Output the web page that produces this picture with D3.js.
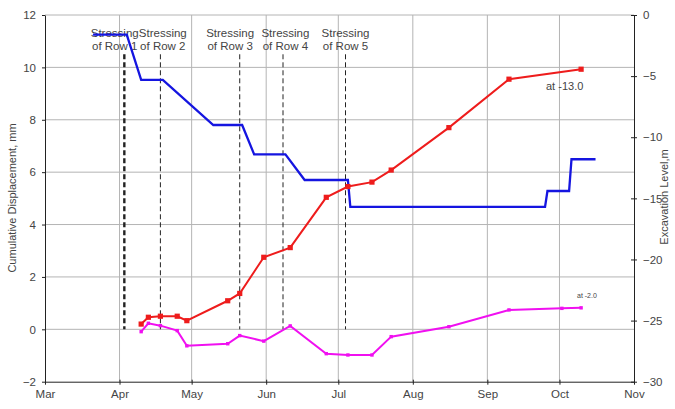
<!doctype html>
<html lang="en">
<head>
<meta charset="utf-8">
<title>Cumulative displacement and excavation level</title>
<style>
html, body { margin:0; padding:0; background:#fff; }
svg { display:block; font-family:"Liberation Sans", Arial, sans-serif; }
.grid line { stroke:#b4b4b4; stroke-width:1; }
.axis path, .axis line { stroke:#222; }
.axis text { fill:#444; font-size:11.5px; }
.lbl { fill:#444; font-size:11.5px; }
</style>
<script src="https://cdn.jsdelivr.net/npm/d3@7/dist/d3.min.js"></script>
</head>
<body>
<svg id="chart" width="675" height="409"></svg>
<script>
// x axis months (tick labels)
const monthLabels = ["Mar", "Apr", "May", "Jun", "Jul", "Aug", "Sep", "Oct", "Nov"];
const leftTicks  = [-2, 0, 2, 4, 6, 8, 10, 12];
const rightTicks = [-30, -25, -20, -15, -10, -5, 0];

// excavation level (right axis, m)
const excDates = ["2003-03-21","2003-04-04","2003-04-10","2003-04-19","2003-05-10","2003-05-22","2003-05-27","2003-06-09",
                  "2003-06-17","2003-07-05","2003-07-06","2003-09-25","2003-09-26","2003-10-05","2003-10-06","2003-10-16"];
const excLevel = [-1.6,-1.6,-5.3,-5.3,-9.0,-9.0,-11.4,-11.4,-13.5,-13.5,-15.7,-15.7,-14.4,-14.4,-11.8,-11.8];

// displacement at -13.0 (left axis, mm)
const d13Dates = ["2003-04-10","2003-04-13","2003-04-18","2003-04-25","2003-04-29","2003-05-16","2003-05-21","2003-05-31",
                  "2003-06-11","2003-06-26","2003-07-05","2003-07-15","2003-07-23","2003-08-16","2003-09-10","2003-10-10"];
const d13Values = [0.2,0.46,0.5,0.5,0.33,1.09,1.37,2.75,3.12,5.04,5.45,5.62,6.08,7.7,9.55,9.93];

// displacement at -2.0 (left axis, mm)
const d2Dates = ["2003-04-10","2003-04-13","2003-04-18","2003-04-25","2003-04-29","2003-05-16","2003-05-21","2003-05-31",
                 "2003-06-11","2003-06-26","2003-07-05","2003-07-15","2003-07-23","2003-08-16","2003-09-10","2003-10-02","2003-10-10"];
const d2Values = [-0.09,0.23,0.14,-0.05,-0.63,-0.55,-0.24,-0.45,0.13,-0.93,-0.98,-0.98,-0.28,0.1,0.74,0.8,0.82];

// stressing events
const stressDates = ["2003-04-03","2003-04-18","2003-05-21","2003-06-08","2003-07-04"];
const stressLabelDates = ["2003-03-30","2003-04-19","2003-05-17","2003-06-09","2003-07-04"];
const stressLabels = ["of Row 1","of Row 2","of Row 3","of Row 4","of Row 5"];

const parse = d3.timeParse("%Y-%m-%d");
const svg = d3.select("#chart");

const x = d3.scaleTime()
  .domain([parse("2003-03-01"), parse("2003-11-01")])
  .range([45, 634]);
const yL = d3.scaleLinear().domain([-2, 12]).range([381.7, 15]);
const yR = d3.scaleLinear().domain([-30, 0]).range([381.7, 15]);

const monthTicks = monthLabels.map((m, i) => new Date(2003, 2 + i, 1));

// gridlines
const grid = svg.append("g").attr("class", "grid");
grid.selectAll(".h").data(leftTicks.filter(v => v > -2)).enter().append("line")
  .attr("x1", 45).attr("x2", 634)
  .attr("y1", d => yL(d)).attr("y2", d => yL(d));
grid.selectAll(".v").data(monthTicks.slice(1, -1)).enter().append("line")
  .attr("x1", d => x(d)).attr("x2", d => x(d))
  .attr("y1", 15).attr("y2", 381.7);

// axes
svg.append("g").attr("class", "axis")
  .attr("transform", "translate(45,0)")
  .call(d3.axisLeft(yL).tickValues(leftTicks).tickSize(3).tickPadding(6).tickSizeOuter(0));
svg.append("g").attr("class", "axis")
  .attr("transform", "translate(634,0)")
  .call(d3.axisRight(yR).tickValues(rightTicks).tickSizeInner(3).tickSizeOuter(0).tickPadding(6))
  .call(g => g.selectAll(".tick line").attr("x1", -3));
svg.append("g").attr("class", "axis")
  .attr("transform", "translate(0,381.7)")
  .call(d3.axisBottom(x).tickValues(monthTicks).tickFormat((d, i) => monthLabels[i]).tickSize(3).tickPadding(5).tickSizeOuter(0))
  .call(g => g.selectAll(".tick line").attr("y1", -2));

// axis titles
svg.append("text").attr("class", "lbl")
  .attr("transform", "translate(16,198) rotate(-90)")
  .attr("text-anchor", "middle").style("font-size", "11px")
  .text("Cumulative Displacement, mm");
svg.append("text").attr("class", "lbl")
  .attr("transform", "translate(668,197) rotate(-90)")
  .attr("text-anchor", "middle").style("font-size", "11px")
  .text("Excavation Level,m");

// stressing markers
svg.selectAll(".stress").data(stressDates).enter().append("line")
  .attr("x1", d => x(parse(d))).attr("x2", d => x(parse(d)))
  .attr("y1", yL(10.5)).attr("y2", yL(0))
  .attr("stroke", "#222")
  .attr("stroke-width", (d, i) => i === 0 ? 2.4 : 1)
  .attr("stroke-dasharray", "5,3");
const sl = svg.selectAll(".slab").data(stressLabelDates).enter().append("text")
  .attr("class", "lbl").attr("text-anchor", "middle");
sl.append("tspan").attr("x", d => x(parse(d))).attr("y", 36.5).text("Stressing");
sl.append("tspan").attr("x", d => x(parse(d))).attr("y", 50).text((d, i) => stressLabels[i]);

// series
const excData = excDates.map((d, i) => ({ date: parse(d), v: excLevel[i] }));
const d13Data = d13Dates.map((d, i) => ({ date: parse(d), v: d13Values[i] }));
const d2Data = d2Dates.map((d, i) => ({ date: parse(d), v: d2Values[i] }));

svg.append("path").datum(excData)
  .attr("fill", "none").attr("stroke", "#1515e0").attr("stroke-width", 2.3)
  .attr("d", d3.line().x(d => x(d.date)).y(d => yR(d.v)));

svg.append("path").datum(d2Data)
  .attr("fill", "none").attr("stroke", "#f010f0").attr("stroke-width", 2)
  .attr("d", d3.line().x(d => x(d.date)).y(d => yL(d.v)));
svg.selectAll(".m2").data(d2Data).enter().append("rect")
  .attr("x", d => x(d.date) - 1.7).attr("y", d => yL(d.v) - 1.7)
  .attr("width", 3.4).attr("height", 3.4).attr("fill", "#f010f0");

svg.append("path").datum(d13Data)
  .attr("fill", "none").attr("stroke", "#ee1c1c").attr("stroke-width", 2)
  .attr("d", d3.line().x(d => x(d.date)).y(d => yL(d.v)));
svg.selectAll(".m13").data(d13Data).enter().append("rect")
  .attr("x", d => x(d.date) - 2.6).attr("y", d => yL(d.v) - 2.6)
  .attr("width", 5.2).attr("height", 5.2).attr("fill", "#ee1c1c");

// series annotations
svg.append("text").attr("class", "lbl").style("font-size", "11px")
  .attr("x", 546).attr("y", 90).text("at -13.0");
svg.append("text").attr("class", "lbl").style("font-size", "7px")
  .attr("x", 577).attr("y", 298).text("at -2.0");
</script>
</body>
</html>
